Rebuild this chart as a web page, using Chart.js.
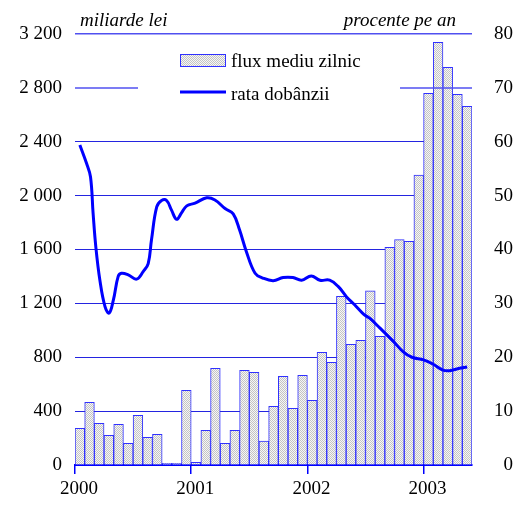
<!DOCTYPE html>
<html>
<head>
<meta charset="utf-8">
<script src="https://cdn.jsdelivr.net/npm/chart.js@4.4.0/dist/chart.umd.min.js"></script>
<style>
  html, body { margin: 0; padding: 0; background: #fff; }
  canvas { display: block; }
</style>
</head>
<body>
<canvas id="myChart" width="527" height="506"></canvas>
<script>
(function () {
  'use strict'

  // monthly positions, Jan 2000 (0) - May 2003 (40)
  const months = [
    0, 1, 2, 3, 4, 5, 6, 7, 8, 9, 10, 11,
    12, 13, 14, 15, 16, 17, 18, 19, 20, 21, 22, 23,
    24, 25, 26, 27, 28, 29, 30, 31, 32, 33, 34, 35,
    36, 37, 38, 39, 40
  ]
  // flux mediu zilnic, miliarde lei
  const fluxValues = [
    272, 465, 309, 220, 302, 161, 369, 206, 228, 12, 12, 555,
    20, 257, 718, 161, 257, 703, 688, 178, 436, 658, 421, 666,
    480, 837, 762, 1252, 896, 926, 1294, 955, 1616, 1673, 1661, 2153,
    2760, 3138, 2953, 2752, 2663
  ]
  // rata dobanzii, procente pe an (position in months from Jan 2000)
  const rateMonths = [
    0, 0.69, 1.1, 1.37, 1.65, 2.07, 2.6, 3.03, 3.46, 3.96, 4.3, 5.0, 5.86, 6.54, 7.06, 7.4, 7.94,
    8.44, 8.96, 9.47, 9.99, 10.5, 11.04, 11.9, 13.1, 13.95, 15.0, 15.84, 16.5, 17.2, 18.1, 18.9,
    19.97, 21.0, 22.0, 22.9, 23.9, 24.8, 25.8, 26.7, 27.55, 28.4, 29.3, 29.96, 31.0, 32.4, 33.4,
    34.3, 35.5, 36.5, 37.5, 38.2, 39.1, 40.0
  ]
  const rateValues = [
    59.4, 56.0, 53.5, 46.7, 40.5, 34.3, 29.4, 28.2, 30.6, 35.0, 35.6, 35.3, 34.5, 35.9, 37.4, 41.8, 47.9,
    49.1, 49.1, 47.3, 45.6, 46.8, 48.1, 48.6, 49.6, 49.2, 47.6, 46.6, 43.6, 39.6, 35.6, 34.7,
    34.2, 34.8, 34.8, 34.3, 35.1, 34.3, 34.3, 33.1, 31.2, 29.7, 28.0, 27.2, 25.4, 22.9, 21.0,
    20.0, 19.5, 18.7, 17.6, 17.5, 17.9, 18.2
  ]
  const yearTicks = [-0.5, 11.5, 23.5, 35.5]
  const yearLabels = ['2000', '2001', '2002', '2003']
  const leftTicks = [0, 400, 800, 1200, 1600, 2000, 2400, 2800, 3200]
  const rightTicks = [0, 10, 20, 30, 40, 50, 60, 70, 80]

  const seriesNames = ['flux mediu zilnic', 'rata dobânzii']
  const axisTitles = ['miliarde lei', 'procente pe an']

  const blue = '#0000ff'
  const gridColor = '#2424e0'
  const barBorder = '#3030ff'
  const font = '"Liberation Serif", "Times New Roman", serif'

  var ctx = document.getElementById('myChart')
  var c2 = ctx.getContext('2d')

  // dotted fill like the original
  var pc = document.createElement('canvas')
  pc.width = 2
  pc.height = 2
  var p = pc.getContext('2d')
  p.fillStyle = '#f6f6f6'
  p.fillRect(0, 0, 2, 2)
  p.fillStyle = '#c4c4c4'
  p.fillRect(0, 0, 1, 1)
  p.fillRect(1, 1, 1, 1)
  var dots = c2.createPattern(pc, 'repeat')

  function fmt(v) {
    if (v >= 1000) {
      var r = String(v % 1000)
      while (r.length < 3) r = '0' + r
      return Math.floor(v / 1000) + ' ' + r
    }
    return String(v)
  }

  // legend, titles and the 2800 line sit on top of the bars
  const overlay = {
    id: 'overlay',
    afterDatasetsDraw(chart) {
      const g = chart.ctx
      const a = chart.chartArea
      const yy = chart.scales.y.getPixelForValue(2800)
      g.save()
      g.strokeStyle = '#5050f0'
      g.lineWidth = 1.5
      g.beginPath()
      g.moveTo(a.left, yy)
      g.lineTo(a.right, yy)
      g.stroke()

      g.fillStyle = '#fff'
      g.fillRect(a.left + 63, a.top + 12, 262, 62)

      // bar swatch
      g.fillStyle = dots
      g.fillRect(a.left + 105, a.top + 20, 46, 13)
      g.strokeStyle = barBorder
      g.lineWidth = 1
      g.strokeRect(a.left + 105.5, a.top + 20.5, 45, 12)
      // line swatch
      g.strokeStyle = blue
      g.lineWidth = 3
      g.beginPath()
      g.moveTo(a.left + 105, a.top + 58)
      g.lineTo(a.left + 151, a.top + 58)
      g.stroke()

      g.fillStyle = '#000'
      g.font = '19px ' + font
      g.textBaseline = 'alphabetic'
      g.textAlign = 'left'
      g.fillText(seriesNames[0], a.left + 156, a.top + 33)
      g.fillText(seriesNames[1], a.left + 156, a.top + 66)

      g.font = 'italic 19px ' + font
      g.fillText(axisTitles[0], a.left + 5, a.top - 8)
      g.textAlign = 'right'
      g.fillText(axisTitles[1], a.right - 16, a.top - 8)
      g.restore()
    }
  }

  const config = {
    type: 'bar',
    data: {
      datasets: [{
          label: seriesNames[0],
          data: months.map(function (m, i) { return { x: m, y: fluxValues[i] } }),
          backgroundColor: dots,
          borderColor: barBorder,
          borderWidth: 1,
          barPercentage: 1,
          categoryPercentage: 1,
          yAxisID: 'y',
          order: 2
      }, {
          type: 'line',
          label: seriesNames[1],
          data: rateMonths.map(function (m, i) { return { x: m, y: rateValues[i] } }),
          borderColor: blue,
          borderWidth: 3,
          backgroundColor: 'transparent',
          pointRadius: 0,
          tension: 0.4,
          yAxisID: 'y1',
          order: 1
      }]
    },
    options: {
      responsive: false,
      animation: false,
      layout: { padding: { top: 34, right: 14, left: 0, bottom: 0 } },
      scales: {
        x: {
          type: 'linear',
          position: 'bottom',
          offset: false,
          min: -0.5,
          max: 40.5,
          afterBuildTicks: function (s) {
            s.ticks = yearTicks.map(function (v) { return { value: v } })
          },
          afterFit: function (s) { s.height = 41 },
          grid: {
            offset: false,
            drawOnChartArea: false,
            drawTicks: true,
            tickLength: 9,
            color: blue,
            lineWidth: 1.5
          },
          border: { display: true, color: blue, width: 2 },
          ticks: {
            autoSkip: false,
            maxRotation: 0,
            padding: 4,
            labelOffset: 4,
            color: '#000',
            font: { family: font, size: 19 },
            callback: function (value, index) { return yearLabels[index] }
          }
        },
        y: {
          position: 'left',
          min: 0,
          max: 3200,
          afterBuildTicks: function (s) {
            s.ticks = leftTicks.map(function (v) { return { value: v } })
          },
          afterFit: function (s) { s.width = 75 },
          border: { display: false },
          grid: {
            drawTicks: false,
            color: function (c) {
              var v = c.tick.value
              if (v === 0 || v === 2800) return 'transparent'
              if (v === 3200) return '#5050f0'
              return gridColor
            },
            lineWidth: function (c) { return c.tick.value === 3200 ? 1.5 : 1 }
          },
          ticks: {
            padding: 13,
            color: '#000',
            font: { family: font, size: 19 },
            callback: function (v) { return fmt(v) }
          }
        },
        y1: {
          position: 'right',
          min: 0,
          max: 80,
          afterBuildTicks: function (s) {
            s.ticks = rightTicks.map(function (v) { return { value: v } })
          },
          afterFit: function (s) { s.width = 41 },
          border: { display: false },
          grid: { display: false, drawTicks: false },
          ticks: {
            crossAlign: 'far',
            color: '#000',
            font: { family: font, size: 19 },
            callback: function (v) { return String(v) }
          }
        }
      },
      plugins: {
        legend: { display: false },
        tooltip: { enabled: false }
      }
    },
    plugins: [overlay]
  }
  var chart = new Chart(ctx, config)

}) ()
</script>
</body>
</html>
